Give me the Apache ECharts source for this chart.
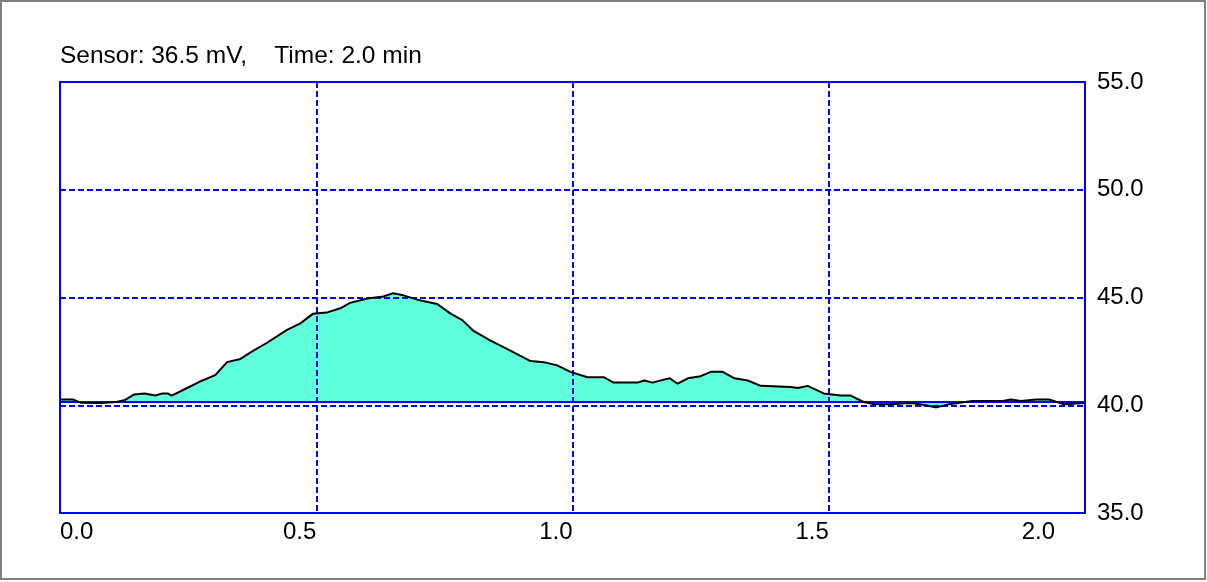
<!DOCTYPE html>
<html>
<head>
<meta charset="utf-8">
<script src="https://cdn.jsdelivr.net/npm/echarts@6/dist/echarts.min.js"></script>
<style>
  html, body { margin: 0; padding: 0; background: #fff; }
  #chart { width: 1207px; height: 582px; }
</style>
</head>
<body>
<div id="chart"></div>
<script>
// time in minutes, sensor values in mV
const times = [
  0.00, 0.025, 0.04, 0.08, 0.11, 0.127, 0.145, 0.165, 0.186, 0.20,
  0.21, 0.218, 0.248, 0.273, 0.303, 0.326, 0.352, 0.375, 0.404, 0.443,
  0.469, 0.494, 0.52, 0.547, 0.566, 0.60, 0.631, 0.65, 0.67, 0.697,
  0.736, 0.762, 0.785, 0.807, 0.84, 0.873, 0.918, 0.944, 0.97, 0.996,
  1.029, 1.061, 1.08, 1.127, 1.14, 1.156, 1.18, 1.19, 1.205, 1.225,
  1.25, 1.27, 1.293, 1.316, 1.342, 1.367, 1.426, 1.44, 1.459, 1.49,
  1.523, 1.543, 1.568, 1.59, 1.62, 1.66, 1.69, 1.71, 1.735, 1.78,
  1.84, 1.855, 1.875, 1.905, 1.93, 1.945, 1.96, 2.00
];
const values = [
  40.27, 40.27, 40.12, 40.10, 40.15, 40.25, 40.50, 40.55, 40.45, 40.55,
  40.55, 40.45, 40.80, 41.10, 41.40, 42.00, 42.15, 42.50, 42.90, 43.50,
  43.80, 44.25, 44.30, 44.50, 44.75, 44.95, 45.05, 45.20, 45.10, 44.90,
  44.70, 44.25, 43.95, 43.45, 43.00, 42.60, 42.05, 42.00, 41.85, 41.55,
  41.30, 41.30, 41.05, 41.05, 41.15, 41.05, 41.20, 41.25, 41.00, 41.25,
  41.35, 41.55, 41.55, 41.25, 41.15, 40.90, 40.85, 40.80, 40.90, 40.55,
  40.45, 40.45, 40.15, 40.05, 40.05, 40.10, 40.00, 39.90, 40.05, 40.20,
  40.20, 40.27, 40.20, 40.27, 40.27, 40.15, 40.05, 40.10
];
const baseline = 40.15;
const titleText = 'Sensor: 36.5 mV,    Time: 2.0 min';

const points = times.map((t, i) => [t, values[i]]);
const font = "'Liberation Sans', Arial, sans-serif";
const blue = '#0000ff';

const chart = echarts.init(document.getElementById('chart'));

chart.setOption({
  animation: false,
  backgroundColor: '#fff',
  textStyle: { fontFamily: font },
  title: {
    text: titleText,
    left: 60,
    top: 44,
    padding: 0,
    textStyle: { fontSize: 24.5, fontWeight: 'normal', color: '#000', fontFamily: font }
  },
  graphic: [{
    type: 'rect',
    shape: { x: 1, y: 1, width: 1204, height: 578 },
    style: { fill: 'none', stroke: '#808080', lineWidth: 2 },
    silent: true
  }],
  grid: {
    left: 60, right: 122, top: 82, bottom: 69,
    show: true, borderColor: blue, borderWidth: 2, backgroundColor: 'transparent'
  },
  xAxis: {
    type: 'value',
    min: 0,
    max: 2.0,
    interval: 0.5,
    z: 3,
    axisLine: { show: true, onZero: false, lineStyle: { color: blue, width: 2 } },
    axisTick: { show: false },
    axisLabel: {
      color: '#000',
      fontSize: 24,
      fontFamily: font,
      margin: 7,
      align: 'right',
      alignMinLabel: 'left',
      alignMaxLabel: 'right',
      formatter: v => v === 2 ? '{m|2.0}' : v.toFixed(1),
      rich: { m: { fontSize: 24, fontFamily: font, color: '#000', padding: [0, 30, 0, 0] } }
    },
    splitLine: { show: true, lineStyle: { color: blue, width: 2, type: [6, 3] } }
  },
  yAxis: {
    type: 'value',
    position: 'right',
    min: 35,
    max: 55,
    interval: 5,
    z: 3,
    axisLine: { show: true, onZero: false, lineStyle: { color: blue, width: 2 } },
    axisTick: { show: false },
    axisLabel: {
      color: '#000',
      fontSize: 24,
      fontFamily: font,
      margin: 12,
      formatter: v => v.toFixed(1)
    },
    splitLine: { show: true, lineStyle: { color: blue, width: 2, type: [6, 3] } }
  },
  series: [
    {
      type: 'line',
      data: points,
      showSymbol: false,
      z: 1,
      lineStyle: { width: 0 },
      areaStyle: { color: '#60ffdc', opacity: 1, origin: baseline },
      markLine: {
        silent: true,
        symbol: 'none',
        label: { show: false },
        lineStyle: { color: blue, width: 2, type: 'solid' },
        data: [{ yAxis: baseline }]
      }
    },
    {
      type: 'line',
      data: points,
      showSymbol: false,
      z: 5,
      lineStyle: { color: '#000', width: 2 }
    }
  ]
});
</script>
</body>
</html>
